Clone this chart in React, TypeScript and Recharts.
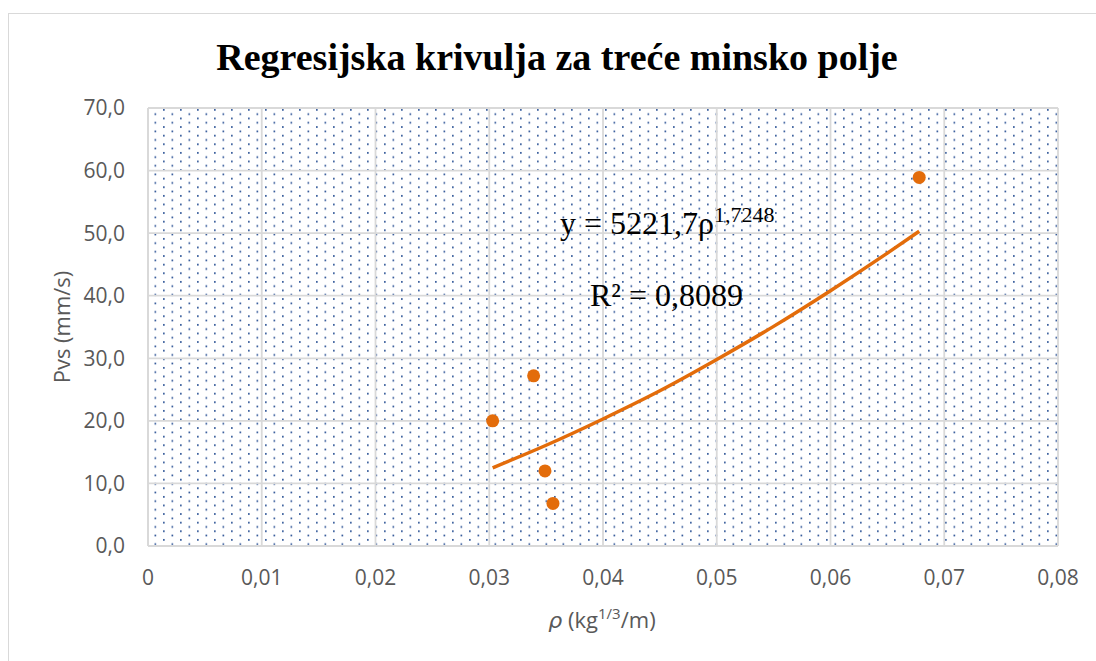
import React from 'react';
import { ComposedChart, Scatter, Line, XAxis, YAxis, CartesianGrid } from 'recharts';

const rhoValues = [0.0303, 0.0339, 0.0349, 0.0356, 0.0678];
const pvsValues = [20.0, 27.2, 12.0, 6.8, 58.9];

const trendRho = [0.0303, 0.035, 0.04, 0.045, 0.05, 0.055, 0.06, 0.065, 0.0678];
const trendPvs = [12.5, 16.1, 20.3, 24.8, 29.8, 35.1, 40.8, 46.8, 50.3];

const xTicks = [0, 0.01, 0.02, 0.03, 0.04, 0.05, 0.06, 0.07, 0.08];
const yTicks = [0, 10, 20, 30, 40, 50, 60, 70];

const title = 'Regresijska krivulja za treće minsko polje';
const yLabel = 'Pvs (mm/s)';
const equationMain = 'y = 5221,7ρ';
const equationExp = '1,7248';
const r2Text = 'R² = 0,8089';

const points = rhoValues.map((x, i) => ({ x, y: pvsValues[i] }));
const trend = trendRho.map((x, i) => ({ x, y: trendPvs[i] }));

const ORANGE = '#E36C0A';
const TICK_FONT = "'Open Sans', sans-serif";
const SERIF = "'Liberation Serif', 'Times New Roman', serif";

const fmtX = (v: number) => (v === 0 ? '0' : v.toFixed(2).replace('.', ','));
const fmtY = (v: number) => v.toFixed(1).replace('.', ',');

const Dot = (props: any) => {
  const { cx, cy } = props;
  if (cx == null || cy == null) return null;
  return <circle cx={cx} cy={cy} r={6.5} fill={ORANGE} />;
};

export default function App() {
  return (
    <div
      style={{
        position: 'absolute',
        left: 0,
        top: 0,
        width: 1096,
        height: 661,
        overflow: 'hidden',
        background: '#fff',
      }}
    >
      <div
        style={{
          position: 'absolute',
          left: 8,
          top: 13,
          width: 1200,
          height: 800,
          border: '1.5px solid #d9d9d9',
        }}
      />
      <div style={{ position: 'absolute', left: 0, top: 0 }}>
        <ComposedChart
          width={1096}
          height={661}
          margin={{ top: 108, right: 38, bottom: 0, left: 0 }}
        >
          <defs>
            <pattern id="dots" patternUnits="userSpaceOnUse" width="17" height="8.6">
              <rect x="1.5" y="1.5" width="1.7" height="1.7" fill="#2F5597" />
              <rect x="10" y="5.8" width="1.7" height="1.7" fill="#2F5597" />
            </pattern>
          </defs>
          <CartesianGrid
            stroke="#d9d9d9"
            strokeWidth={1.8}
            fill="url(#dots)"
            fillOpacity={1}
            verticalValues={xTicks}
            horizontalValues={yTicks}
          />
          <XAxis
            dataKey="x"
            type="number"
            domain={[0, 0.08]}
            ticks={xTicks}
            tickFormatter={fmtX}
            axisLine={{ stroke: '#d9d9d9', strokeWidth: 1.8 }}
            tickLine={false}
            tickSize={0}
            tickMargin={24}
            height={115}
            interval={0}
            tick={{ fill: '#595959', fontSize: 21, fontFamily: TICK_FONT }}
          />
          <YAxis
            type="number"
            domain={[0, 70]}
            ticks={yTicks}
            tickFormatter={fmtY}
            axisLine={{ stroke: '#d9d9d9', strokeWidth: 1.8 }}
            tickLine={false}
            tickSize={0}
            tickMargin={23}
            width={148}
            interval={0}
            tick={{ fill: '#595959', fontSize: 21, fontFamily: TICK_FONT }}
          />
          <Line
            data={trend}
            dataKey="y"
            type="monotone"
            stroke={ORANGE}
            strokeWidth={3.5}
            dot={false}
            activeDot={false}
            isAnimationActive={false}
          />
          <Scatter data={points} dataKey="y" fill={ORANGE} shape={Dot} isAnimationActive={false} />
        </ComposedChart>
      </div>
      <svg
        width={1096}
        height={661}
        style={{ position: 'absolute', left: 0, top: 0, pointerEvents: 'none' }}
      >
        <text
          x={557}
          y={70}
          textAnchor="middle"
          fontFamily={SERIF}
          fontWeight="bold"
          fontSize={38}
          fill="#000"
        >
          {title}
        </text>
        <text
          x={61}
          y={327}
          transform="rotate(-90 61 327)"
          textAnchor="middle"
          dominantBaseline="central"
          fontFamily={TICK_FONT}
          fontSize={22}
          fill="#595959"
        >
          {yLabel}
        </text>
        <text
          x={602}
          y={628}
          textAnchor="middle"
          fontFamily={TICK_FONT}
          fontSize={22}
          fill="#595959"
        >
          <tspan fontStyle="italic" fontFamily="'DejaVu Sans', sans-serif">ρ</tspan>
          <tspan> (kg</tspan>
          <tspan fontSize={15} dy={-9}>1/3</tspan>
          <tspan dy={9}>/m)</tspan>
        </text>
        <text x={560} y={234} fontFamily={SERIF} fontSize={32} fill="#000">
          <tspan>{equationMain}</tspan>
          <tspan fontSize={22} dy={-12}>{equationExp}</tspan>
        </text>
        <text x={590} y={306} fontFamily={SERIF} fontSize={32} fill="#000">
          {r2Text}
        </text>
      </svg>
    </div>
  );
}
